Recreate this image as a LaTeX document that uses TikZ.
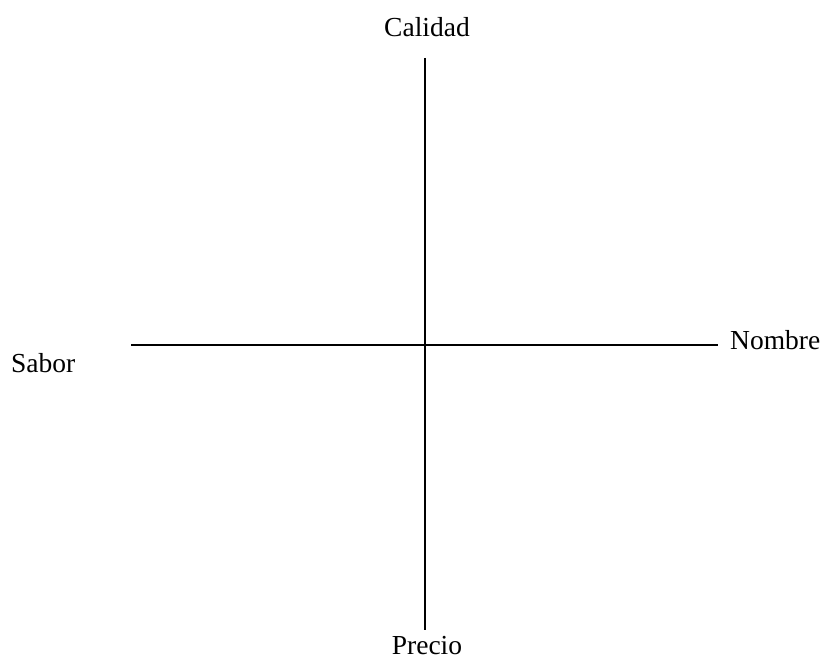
\documentclass[tikz,border=0pt]{standalone}
\usepackage{fontspec}
\setmainfont{Liberation Serif}
\begin{document}
\begin{tikzpicture}[x=1pt,y=-1pt,
  lbl/.style={font=\fontsize{27.5}{30}\selectfont, inner sep=0pt, anchor=base},
  axis/.style={line width=1.1pt, black}]
\useasboundingbox (0,0) rectangle (822,661);
\coordinate (top) at (425,58);
\coordinate (bot) at (425,630);
\coordinate (lft) at (131,345);
\coordinate (rgt) at (718,345);
\draw[axis] (top) -- (bot);
\draw[axis] (lft) -- (rgt);
\node[lbl] (cal) at (427,37) {Calidad};
\node[lbl, anchor=base west] (nom) at (730,349) {Nombre};
\node[lbl, anchor=base west] (sab) at (11,372) {Sabor};
\node[lbl] (pre) at (427,654) {Precio};
\end{tikzpicture}
\end{document}
